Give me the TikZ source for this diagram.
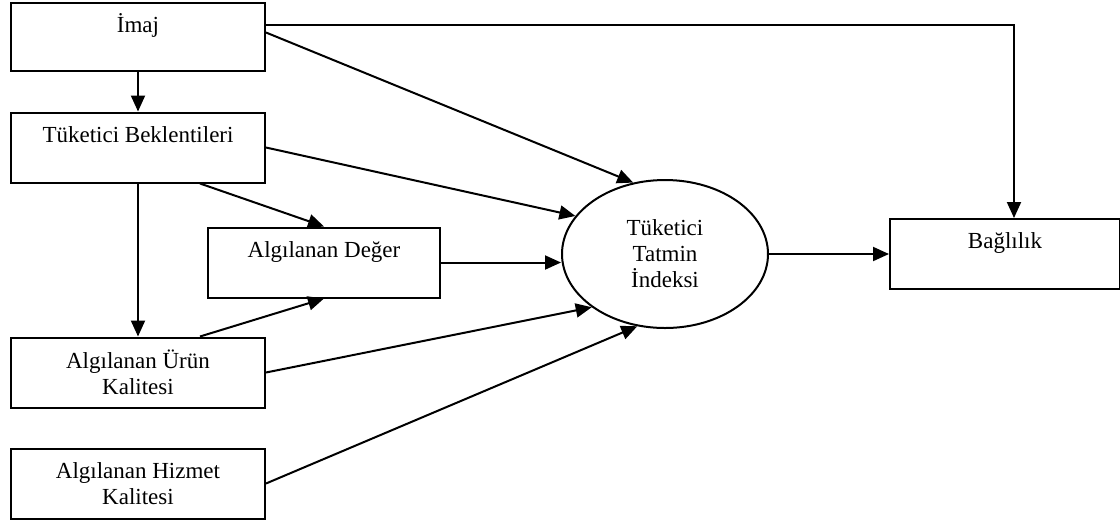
\documentclass[tikz,border=0pt]{standalone}
\usepackage{fontspec}
\setmainfont{Liberation Serif}
\usetikzlibrary{arrows.meta,positioning,shapes.geometric}

\begin{document}
\begin{tikzpicture}[
  x=0.5pt, y=-0.5pt,
  box/.style={
    draw,
    line width=1pt,
    align=center,
    minimum width=127pt,
    minimum height=35pt,
    inner sep=1pt,
    font=\fontsize{11.5}{13}\selectfont
  },
  oval/.style={
    draw,
    ellipse,
    line width=1pt,
    align=center,
    minimum width=103pt,
    minimum height=74pt,
    inner sep=0pt,
    font=\fontsize{11.5}{13}\selectfont
  },
  arrow/.style={-{Triangle[length=8pt,width=7pt]}, line width=1pt}
]
\useasboundingbox (0,0) rectangle (1120,527);

\node[box, minimum height=34pt] (imaj) at (138,36.5) {İmaj\\~};
\node[box, below=20pt of imaj] (beklenti) {Tüketici Beklentileri\\~};
\node[box, below=76.5pt of beklenti] (urun) {Algılanan Ürün\\Kalitesi};
\node[box, below=19.5pt of urun] (hizmet) {Algılanan Hizmet\\Kalitesi};
\node[box, minimum width=116pt] (deger) at (324,262.5) {Algılanan Değer\\~};

\node[oval] (tatmin) at (665,254) {Tüketici\\Tatmin\\İndeksi};
\node[box, minimum width=115pt, right=60pt of tatmin] (baglilik) {Bağlılık\\~};

\draw[arrow] (imaj) -- (beklenti);
\draw[arrow] (beklenti) -- (urun);
\draw[arrow] ([xshift=31pt]beklenti.south) -- (deger.north);
\draw[arrow] ([xshift=31pt]urun.north) -- (deger.south);

\draw[arrow] ([yshift=6pt]imaj.east) -| ([xshift=4.5pt]baglilik.north);
\draw[arrow] ([yshift=2pt]imaj.east) -- (tatmin.114);
\draw[arrow] (beklenti.east) -- (tatmin.157);
\draw[arrow] (deger.east) -- (deger.east -| tatmin.west);
\draw[arrow] (urun.east) -- (tatmin.216);
\draw[arrow] (hizmet.east) -- (tatmin.249);
\draw[arrow] (tatmin.east) -- (baglilik.west);
\end{tikzpicture}
\end{document}
